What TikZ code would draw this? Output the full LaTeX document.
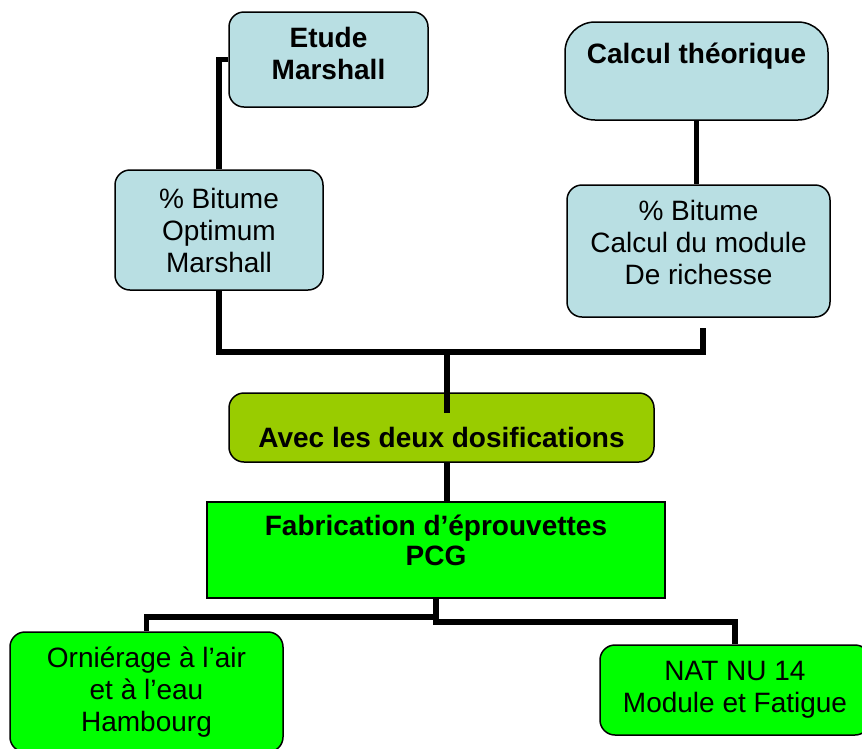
\documentclass[tikz,border=0pt]{standalone}
\usepackage{fontspec}
\setmainfont{Liberation Sans}
\usetikzlibrary{calc}
\definecolor{lblue}{RGB}{185,223,227}
\definecolor{olive}{RGB}{153,204,0}
\definecolor{vgreen}{RGB}{0,255,0}
\begin{document}
\begin{tikzpicture}[x=1pt,y=-1pt,
  box/.style={draw=black,line width=1.5pt,rounded corners=15pt,align=center,inner sep=0pt,
    font=\fontsize{28}{32}\selectfont},
  bluebox/.style={box,fill=lblue},
  txt/.style={align=center,inner sep=0pt,font=\fontsize{28}{32}\selectfont},
  btxt/.style={txt,font=\fontsize{28}{32}\selectfont\bfseries},
  conn/.style={line width=5.5pt,draw=black}]
\useasboundingbox (0,0) rectangle (862,748);
\node[bluebox,minimum width=199pt,minimum height=95pt,
  label={[btxt,yshift=6pt]center:Etude\\Marshall}] (etude) at (328.5,59.5) {};
\node[bluebox,minimum width=208pt,minimum height=120pt] (bit1) at (219,230) {\% Bitume\\Optimum\\Marshall};
\node[bluebox,rounded corners=30pt,minimum width=263pt,minimum height=98pt,
  label={[btxt,yshift=15pt]center:Calcul théorique}] (calc) at (696.5,71) {};
\node[bluebox,minimum width=263pt,minimum height=132pt,
  label={[txt,yshift=9pt]center:\% Bitume\\Calcul du module\\De richesse}] (bit2) at (698.5,251) {};
\node[box,fill=olive,minimum width=425pt,minimum height=69pt,
  label={[btxt,yshift=-10pt]center:Avec les deux dosifications}] (avec) at (441.5,427.5) {};
\node[box,fill=vgreen,rounded corners=0pt,minimum width=458pt,minimum height=96pt,
  label={[txt,font=\fontsize{28}{30}\selectfont\bfseries,yshift=10pt]center:Fabrication d’éprouvettes\\PCG}] (fab) at (436,550) {};
\node[box,fill=vgreen,minimum width=273pt,minimum height=120pt] (orn) at (146.5,692) {Orniérage à l’air\\et à l’eau\\Hambourg};
\node[box,fill=vgreen,minimum width=270pt,minimum height=90pt,
  label={[txt,yshift=0pt]center:NAT NU 14\\Module et Fatigue}] (nat) at (735,690) {};
% junction coordinates
\coordinate (j1) at (447,352);
\coordinate (r1) at (703,328);
\coordinate (a1) at (447,413);
\coordinate (j2) at (436,617);
\coordinate (j3) at (436,622);
% connectors
\draw[conn] (etude.west) -| (bit1.north);
\draw[conn] (bit1.south) |- (j1);
\draw[conn] (r1) |- (j1) -- (a1);
\draw[conn] (avec.south -| j1) -- (fab.north -| j1);
\draw[conn] (fab.south) -- (j3) -| (nat.north);
\draw[conn] (j2) -| (orn.north);
\draw[conn] (calc.south) -- (calc.south |- bit2.north);
\end{tikzpicture}
\end{document}
